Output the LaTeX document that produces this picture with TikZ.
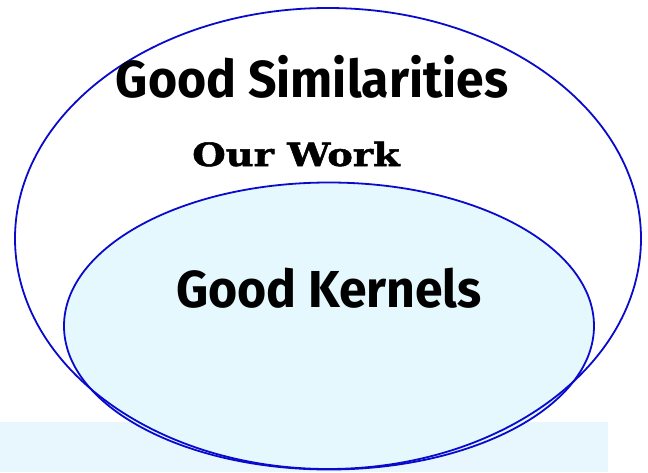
\documentclass[tikz,border=0pt]{standalone}
\usepackage{fontspec}
\setsansfont[FakeStretch=0.96]{Fira Sans}
\newfontfamily\workfont[FakeStretch=1.2, BoldFeatures={FakeBold=1.6}]{DejaVu Serif}
\usepackage{tikz}
\usetikzlibrary{positioning,shapes.geometric}
\definecolor{SetBlue}{HTML}{0A0ACC}
\definecolor{KernelFill}{HTML}{E4F8FE}
\definecolor{BandFill}{HTML}{E8F7FE}

\begin{document}
\begin{tikzpicture}[x=1pt, y=-1pt, every node/.style={font=\sffamily\bfseries}]
    \tikzstyle{set}=[draw=SetBlue, ellipse, line width=1.8pt, inner sep=0pt]
    \tikzstyle{setlabel}=[anchor=base, inner sep=0pt, font=\sffamily\bfseries\fontsize{52}{56}\selectfont]

    \useasboundingbox (0,0) rectangle (648,472);
    \fill[BandFill] (0,422) rectangle (608,472);

    \node[set, fill=KernelFill, minimum width=530pt, minimum height=287pt] (kernels) at (329,326) {};
    \node[set, minimum width=626pt, minimum height=461pt] (similarities) at (328,238.5) {};

    \node[setlabel] (simlabel) at (312,97) {Good Similarities};
    \node[anchor=base, inner sep=0pt, font=\workfont\bfseries\fontsize{32}{36}\selectfont] (work) at (296,166) {Our Work};
    \node[setlabel] (kernlabel) at (329,307) {Good Kernels};

  \end{tikzpicture}
\end{document}
